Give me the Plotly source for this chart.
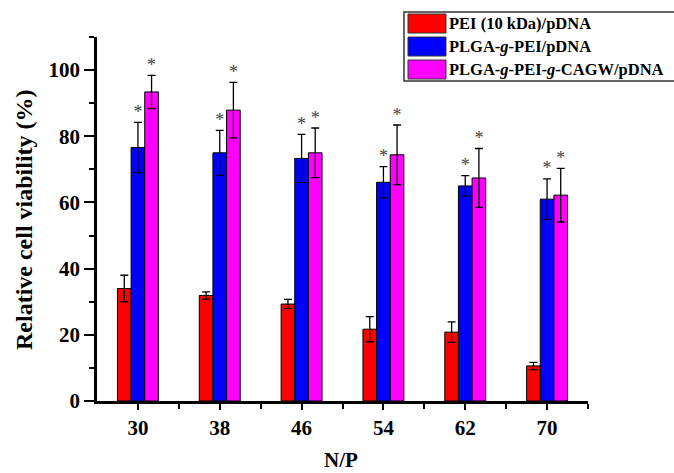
import plotly.graph_objects as go

# ---- data ----
np_ratio = [30, 38, 46, 54, 62, 70]
series_names = ["PEI (10 kDa)/pDNA", "PLGA-<i>g</i>-PEI/pDNA", "PLGA-<i>g</i>-PEI-<i>g</i>-CAGW/pDNA"]
pei_vals = [34.0, 31.9, 29.3, 21.7, 20.8, 10.6]
pei_err = [4.0, 1.1, 1.4, 3.8, 3.1, 1.1]
plga_vals = [76.6, 75.0, 73.3, 66.1, 65.0, 61.0]
plga_err = [7.6, 6.8, 7.3, 4.7, 3.1, 6.1]
cagw_vals = [93.4, 87.9, 75.0, 74.4, 67.4, 62.2]
cagw_err = [5.0, 8.4, 7.5, 9.0, 8.9, 8.1]
y_ticks = [0, 20, 40, 60, 80, 100]

colors = ["#ff0000", "#0000ff", "#ff00ff"]
FONT = "Liberation Serif"

W, H = 674, 473
ML, MR, MT, MB = 97, 86, 37, 72
PW, PH = W - ML - MR, H - MT - MB

def px_x(p):
    return (p - ML) / PW

def px_y(p):
    return (H - MB - p) / PH

fig = go.Figure()
vals = [pei_vals, plga_vals, cagw_vals]
errs = [pei_err, plga_err, cagw_err]
for name, v, e, c in zip(series_names, vals, errs, colors):
    fig.add_trace(go.Bar(
        x=np_ratio, y=v, name=name, marker_color=c,
        marker_line=dict(color="black", width=1),
        error_y=dict(type="data", array=e, visible=True, color="black",
                     thickness=1.3, width=4),
        showlegend=False,
    ))

BARGAP = 0.5
step = np_ratio[1] - np_ratio[0]
bw = step * (1 - BARGAP) / 3
# significance asterisks above blue and magenta bars
for k, (v, e) in enumerate([(plga_vals, plga_err), (cagw_vals, cagw_err)]):
    off = bw * k
    fig.add_trace(go.Scatter(
        x=[xv + off for xv in np_ratio],
        y=[a + b for a, b in zip(v, e)],
        mode="text", text=["*"] * len(np_ratio), textposition="top center",
        textfont=dict(family=FONT, size=18, color="#444"),
        showlegend=False, hoverinfo="skip",
    ))

# manual legend
shapes = [dict(type="rect", xref="paper", yref="paper",
               x0=px_x(404), x1=px_x(676), y0=px_y(81), y1=px_y(12),
               line=dict(color="#333", width=1.5), fillcolor="white", layer="above")]
annotations = []
rows = [(14, 33), (37, 56), (60, 79)]
for (t, b), name, c in zip(rows, series_names, colors):
    shapes.append(dict(type="rect", xref="paper", yref="paper",
                       x0=px_x(408), x1=px_x(446), y0=px_y(b), y1=px_y(t),
                       line=dict(color="#333", width=1), fillcolor=c, layer="above"))
    annotations.append(dict(xref="paper", yref="paper", x=px_x(447), y=px_y((t + b) / 2),
                            text="<b>" + name + "</b>", showarrow=False,
                            xanchor="left", yanchor="middle",
                            font=dict(family=FONT, size=16.5, color="black")))

# axis titles
annotations.append(dict(xref="paper", yref="paper", x=px_x(24), y=px_y(220),
                        text="<b>Relative cell viability (%)</b>", showarrow=False,
                        textangle=-90, xanchor="center", yanchor="middle",
                        font=dict(family=FONT, size=24, color="black")))
annotations.append(dict(xref="paper", yref="paper", x=px_x(341), y=px_y(460),
                        text="<b>N/P</b>", showarrow=False,
                        xanchor="center", yanchor="middle",
                        font=dict(family=FONT, size=21, color="black")))

fig.update_layout(
    width=W, height=H,
    margin=dict(l=ML, r=MR, t=MT, b=MB),
    plot_bgcolor="white", paper_bgcolor="white",
    barmode="group", bargap=BARGAP, bargroupgap=0,
    font=dict(family=FONT, color="black"),
    shapes=shapes, annotations=annotations,
    xaxis=dict(
        range=[26, 74], tickvals=np_ratio, ticktext=[f"<b>{v}</b>" for v in np_ratio],
        ticks="outside", ticklen=6, tickwidth=2, tickcolor="black",
        minor=dict(tickvals=[34, 42, 50, 58, 66, 74], ticks="outside", ticklen=5, tickwidth=2, tickcolor="black"),
        showline=True, linewidth=2.5, linecolor="black", showgrid=False, zeroline=False,
        tickfont=dict(family=FONT, size=21), automargin=False,
    ),
    yaxis=dict(
        range=[0, 110], tickvals=y_ticks, ticktext=[f"<b>{v}</b>" for v in y_ticks],
        ticks="outside", ticklen=10, tickwidth=2, tickcolor="black",
        minor=dict(dtick=10, ticks="outside", ticklen=5, tickwidth=2, tickcolor="black"),
        showline=True, linewidth=2.5, linecolor="black", showgrid=False, zeroline=False,
        tickfont=dict(family=FONT, size=21), automargin=False,
    ),
)

fig.write_html("out.html", config={"displayModeBar": False},
               post_script="document.body.style.margin='0';")
